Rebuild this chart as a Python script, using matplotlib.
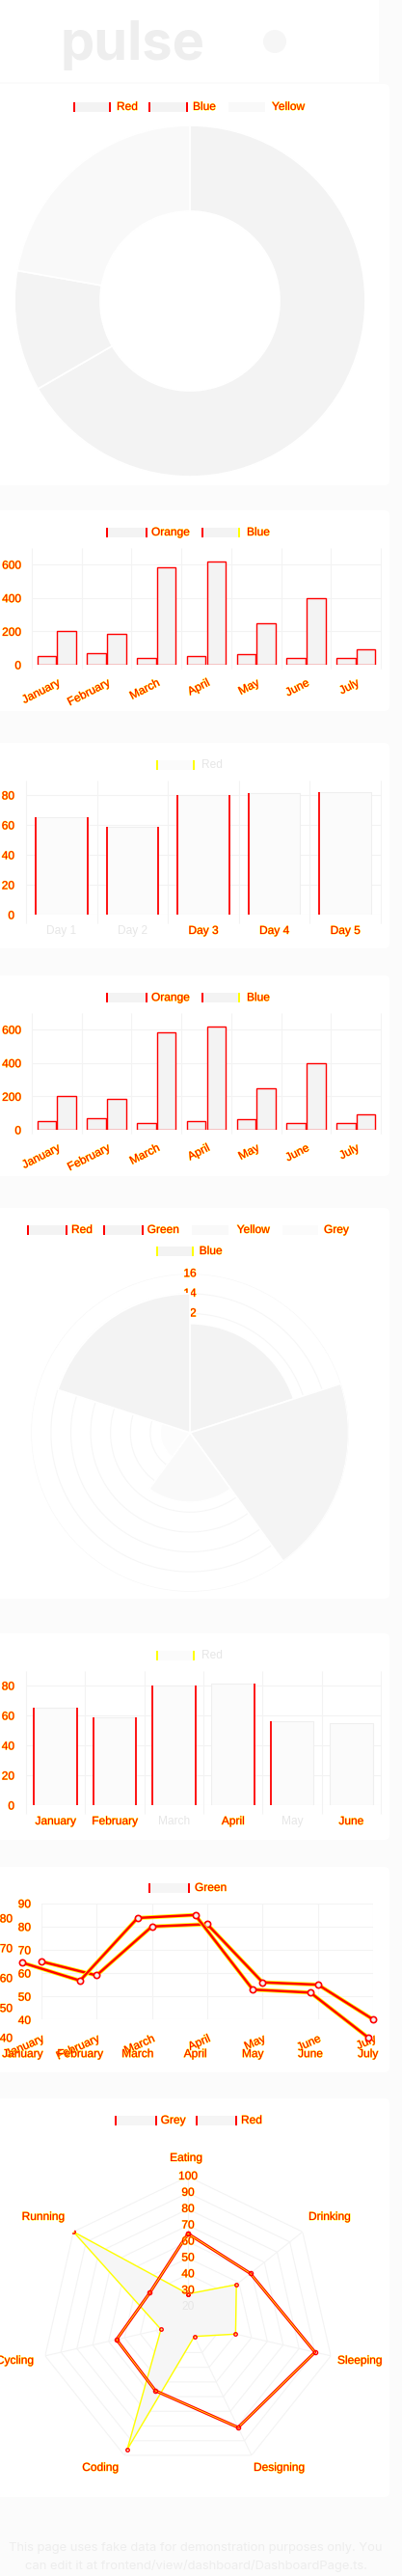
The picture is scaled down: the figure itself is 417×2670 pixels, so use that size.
import matplotlib
matplotlib.use('Agg')
import matplotlib.pyplot as plt
import matplotlib.patheffects as pe
from matplotlib.patches import Rectangle, FancyBboxPatch, Circle
import numpy as np

W, H, DPI = 417, 2670, 100
plt.rcParams['font.family'] = ['Liberation Sans', 'DejaVu Sans']

RED = '#ff0000'
YEL = '#ffff00'
LIGHT = '#e6e6e6'
GRID = '#f3f3f3'
FS = 8.6
HALO = [pe.withStroke(linewidth=0.6, foreground=YEL)]

# ---------------- data ----------------
donut_labels = ['Red', 'Blue', 'Yellow']
donut_values = [300, 50, 100]

month_labels = ['January', 'February', 'March', 'April', 'May', 'June', 'July']
group_names = ['Orange', 'Blue']
orange_values = [52, 67, 42, 50, 62, 38, 42]
blue_values = [200, 185, 585, 620, 250, 400, 95]
bar_ticks = [0, 200, 400, 600]

day_name = 'Red'
day_labels = ['Day 1', 'Day 2', 'Day 3', 'Day 4', 'Day 5']
day_values = [65, 59, 80, 81, 82]
small_ticks = [0, 20, 40, 60, 80]

polar_labels = ['Red', 'Green', 'Yellow', 'Grey', 'Blue']
polar_values = [11, 16, 7, 3, 14]
polar_ticks = [2, 4, 6, 8, 10, 12, 14, 16]

half_name = 'Red'
half_labels = ['January', 'February', 'March', 'April', 'May', 'June']
half_values = [65, 59, 80, 81, 56, 55]

line_name = 'Green'
line_labels = ['January', 'February', 'March', 'April', 'May', 'June', 'July']
line_values = [65, 59, 80, 81, 56, 55, 40]
line_ticks_a = [40, 50, 60, 70, 80, 90]
line_ticks_b = [40, 50, 60, 70, 80]

radar_names = ['Grey', 'Red']
radar_labels = ['Eating', 'Drinking', 'Sleeping', 'Designing', 'Coding', 'Cycling', 'Running']
radar_grey = [65, 59, 90, 81, 56, 55, 40]
radar_red = [28, 48, 40, 19, 96, 27, 100]
radar_ticks = [20, 30, 40, 50, 60, 70, 80, 90, 100]

footer_lines = ['This page uses fake data for demonstration purposes only. You',
                'can edit it at frontend/view/dashboard/DashboardPage.ts.']

# ---------------- figure ----------------
fig = plt.figure(figsize=(W / DPI, H / DPI), dpi=DPI, facecolor='#fbfbfb')
bg = fig.add_axes([0, 0, 1, 1], zorder=0)
bg.set_xlim(0, W)
bg.set_ylim(H, 0)
bg.axis('off')


def rect(x0, y0, x1, y1):
    return [x0 / W, 1 - y1 / H, (x1 - x0) / W, (y1 - y0) / H]


def pt(px):
    return px * 72.0 / DPI


def style(ax):
    ax.set_facecolor('none')
    for s in ax.spines.values():
        s.set_visible(False)


def colorize(labels, colors):
    for lbl, c in zip(labels, colors):
        lbl.set_color(c)
        if c == RED:
            lbl.set_path_effects(HALO)


# header & cards
bg.add_patch(Rectangle((0, 0), 393, 85, facecolor='white', edgecolor='none'))
cards = [(87, 503), (529, 737), (770, 983), (1011, 1219), (1252, 1657),
         (1693, 1907), (1935, 2148), (2175, 2588)]
for y0, y1 in cards:
    bg.add_patch(FancyBboxPatch((-10, y0), 414, y1 - y0,
                                boxstyle='round,pad=0,rounding_size=5',
                                facecolor='white', edgecolor='none'))
bg.add_patch(Circle((285, 43), 12, facecolor='#f6f6f6', edgecolor='none'))
title = bg.text(63, 62, 'pulse', family='Inter', fontweight='bold', fontsize=46,
                color='#eeeeee', va='baseline', ha='left')
foot = [bg.text(203, 2641 + 19 * i, s, family='Inter', fontsize=9, color='#ededed',
                ha='center', va='center') for i, s in enumerate(footer_lines)]


def legend_item(x0, x1, yc, fill, left, right, text, tx, tcolor=RED, h=10):
    bg.add_patch(Rectangle((x0, yc - h / 2), x1 - x0, h, facecolor=fill, edgecolor='none'))
    if left:
        bg.add_patch(Rectangle((x0, yc - h / 2), 2, h, facecolor=left, edgecolor='none'))
    if right:
        bg.add_patch(Rectangle((x1 - 2, yc - h / 2), 2, h, facecolor=right, edgecolor='none'))
    t = bg.text(tx, yc, text, fontsize=FS, color=tcolor, va='center', ha='left')
    if tcolor == RED:
        t.set_path_effects(HALO)


# ---------------- card 1: doughnut ----------------
legend_item(76, 115, 111, '#f3f3f3', RED, RED, donut_labels[0], 121)
legend_item(154, 195, 111, '#f3f3f3', RED, RED, donut_labels[1], 200)
legend_item(237, 275, 111, '#f9f9f9', None, None, donut_labels[2], 282)
axd = fig.add_axes(rect(15, 130, 379, 494))
axd.pie(donut_values, colors=['#f3f3f3', '#f3f3f3', '#f9f9f9'], startangle=90,
        counterclock=False, radius=1,
        wedgeprops=dict(width=0.489, edgecolor='white', linewidth=1.3))
axd.set_xlim(-1, 1)
axd.set_ylim(-1, 1)
axd.set_aspect('auto')


# ---------------- grouped bar charts ----------------
def grouped(y_zero, legend_y):
    legend_item(110, 152.7, legend_y, '#f3f3f3', RED, RED, group_names[0], 157)
    legend_item(209.3, 249.3, legend_y, '#f3f3f3', RED, YEL, group_names[1], 256)
    ax = fig.add_axes(rect(33, y_zero - 121.3, 395, y_zero))
    style(ax)
    x = np.arange(len(month_labels))
    ax.bar(x - 0.2, orange_values, 0.38, color='#f3f3f3', edgecolor=RED, lw=1.0, zorder=3)
    ax.bar(x + 0.2, blue_values, 0.38, color='#f3f3f3', edgecolor=RED, lw=1.0, zorder=3)
    ax.set_xlim(-0.5, len(month_labels) - 0.5)
    ax.set_ylim(0, 700)
    for v in bar_ticks:
        ax.axhline(v, color=GRID, lw=0.8, zorder=1)
    ax.vlines(np.arange(len(month_labels) + 1) - 0.5, -23, 700, color=GRID, lw=0.8,
              zorder=1, clip_on=False)
    ax.set_yticks(bar_ticks)
    ax.set_yticklabels([str(v) for v in bar_ticks])
    ax.tick_params(axis='y', length=0, pad=pt(11), labelsize=FS)
    ax.set_xticks(x)
    ax.set_xticklabels(month_labels, rotation=27, ha='right', rotation_mode='anchor')
    ax.tick_params(axis='x', length=0, pad=pt(13), labelsize=FS)
    colorize(ax.get_yticklabels(), [RED] * 4)
    colorize(ax.get_xticklabels(), [RED] * 7)


grouped(689, 552)
grouped(1171, 1034.3)


# ---------------- single bar charts ----------------
def single(y_zero, x_labels, values, edges, lcolors, legend_y, name):
    legend_item(161.7, 202.3, legend_y, '#fbfbfb', YEL, YEL, name, 209, LIGHT)
    ax = fig.add_axes(rect(27, y_zero - 139.5, 395, y_zero))
    style(ax)
    x = np.arange(len(x_labels))
    bars = ax.bar(x, values, 0.73, color='#fbfbfb', edgecolor='#efefef', lw=0.8, zorder=3)
    for p, (l, r) in zip(bars, edges):
        if l:
            ax.vlines(p.get_x(), 0, p.get_height(), color=RED, lw=1.3, zorder=4)
        if r:
            ax.vlines(p.get_x() + p.get_width(), 0, p.get_height(), color=RED, lw=1.3, zorder=4)
    ax.set_xlim(-0.5, len(x_labels) - 0.5)
    ax.set_ylim(0, 90)
    for v in small_ticks:
        ax.axhline(v, color=GRID, lw=0.8, zorder=1)
    ax.vlines(np.arange(len(x_labels) + 1) - 0.5, -5.6, 90, color=GRID, lw=0.8,
              zorder=1, clip_on=False)
    ax.set_yticks(small_ticks)
    ax.set_yticklabels([str(v) for v in small_ticks])
    ax.tick_params(axis='y', length=0, pad=pt(12), labelsize=FS)
    ax.set_xticks(x)
    ax.set_xticklabels(x_labels)
    ax.tick_params(axis='x', length=0, pad=pt(11), labelsize=FS)
    colorize(ax.get_yticklabels(), [RED] * 5)
    colorize(ax.get_xticklabels(), lcolors)


single(948, day_labels, day_values,
       [(1, 1), (1, 1), (1, 1), (1, 0), (1, 0)],
       [LIGHT, LIGHT, RED, RED, RED], 793, day_name)
single(1871, half_labels, half_values,
       [(1, 1), (1, 1), (1, 1), (0, 1), (1, 0), (0, 0)],
       [RED, RED, LIGHT, RED, LIGHT, RED], 1716, half_name)

# ---------------- polar area ----------------
legend_item(28.3, 70, 1275, '#f3f3f3', RED, RED, polar_labels[0], 74)
legend_item(107.3, 148.7, 1275, '#f3f3f3', RED, RED, polar_labels[1], 152.7)
legend_item(199.3, 237.3, 1275, '#f9f9f9', None, None, polar_labels[2], 245.7)
legend_item(292.7, 330, 1275, '#fbfbfb', None, None, polar_labels[3], 336)
legend_item(161.7, 201, 1297, '#f3f3f3', YEL, YEL, polar_labels[4], 206.7)
R = 164.7
axp = fig.add_axes(rect(197 - R, 1485 - R, 197 + R, 1485 + R), projection='polar')
axp.set_facecolor('none')
axp.set_theta_zero_location('N')
axp.set_theta_direction(-1)
n = len(polar_values)
theta = np.arange(n) * 2 * np.pi / n + np.pi / n
axp.bar(theta, polar_values, width=2 * np.pi / n,
        color=['#f3f3f3', '#f4f4f4', '#f9f9f9', '#fcfcfc', '#f3f3f3'],
        edgecolor='white', lw=1.3, zorder=3)
ring = np.linspace(0, 2 * np.pi, 300)
for r in polar_ticks:
    axp.plot(ring, [r] * len(ring), color='#f6f6f6', lw=0.8, zorder=1)
    t = axp.text(0, r, str(r), ha='center', va='center', fontsize=FS, color=RED, zorder=2)
    t.set_path_effects(HALO)
axp.set_ylim(0, 16)
axp.grid(False)
axp.set_xticks([])
axp.set_yticks([])
axp.spines['polar'].set_visible(False)

# ---------------- line chart (two overlaid renderings) ----------------
legend_item(154, 197.3, 1957, '#f5f5f5', RED, RED, line_name, 202)
xs = np.arange(len(line_values))
axA = fig.add_axes(rect(42.7, 1972.7, 387.3, 2093.3))
style(axA)
axA.set_xlim(0, len(xs) - 1)
axA.set_ylim(40, 90)
for v in line_ticks_a:
    axA.axhline(v, color=GRID, lw=0.8, zorder=1)
for xv in xs:
    axA.axvline(xv, color=GRID, lw=0.8, zorder=1)
axA.plot(xs, line_values, color=YEL, lw=3.0, zorder=3, clip_on=False)
axA.plot(xs, line_values, color=RED, lw=1.8, marker='o', ms=4.5, mfc='#f2f2f2',
         mec=RED, mew=1.2, zorder=4, clip_on=False)
axA.set_yticks(line_ticks_a)
axA.set_yticklabels([str(v) for v in line_ticks_a])
axA.tick_params(axis='y', length=0, pad=pt(10.7), labelsize=FS)
axA.set_xticks(xs)
axA.set_xticklabels(line_labels, rotation=24, ha='right', rotation_mode='anchor')
axA.tick_params(axis='x', length=0, pad=pt(14), labelsize=FS)
colorize(axA.get_yticklabels(), [RED] * 6)
colorize(axA.get_xticklabels(), [RED] * 7)

axB = fig.add_axes(rect(23.3, 1957, 381.7, 2111.7))
style(axB)
axB.set_xlim(0, len(xs) - 1)
axB.set_ylim(40, 90)
axB.plot(xs, line_values, color=YEL, lw=3.0, zorder=3, clip_on=False)
axB.plot(xs, line_values, color=RED, lw=1.8, marker='o', ms=4.5, mfc='#f2f2f2',
         mec=RED, mew=1.2, zorder=4, clip_on=False)
axB.set_yticks(line_ticks_b)
axB.set_yticklabels([str(v) for v in line_ticks_b])
axB.tick_params(axis='y', length=0, pad=pt(10.3), labelsize=FS)
axB.set_xticks(xs)
axB.set_xticklabels(line_labels)
axB.tick_params(axis='x', length=0, pad=pt(11.5), labelsize=FS)
colorize(axB.get_yticklabels(), [RED] * 5)
colorize(axB.get_xticklabels(), [RED] * 7)

# ---------------- radar ----------------
legend_item(119.3, 162.7, 2198, '#f5f5f5', RED, RED, radar_names[0], 166.7)
legend_item(202.7, 246, 2198, '#f5f5f5', RED, RED, radar_names[1], 250)
RR = 152
axr = fig.add_axes(rect(195 - RR, 2408 - RR, 195 + RR, 2408 + RR), projection='polar')
axr.set_facecolor('none')
axr.set_theta_zero_location('N')
axr.set_theta_direction(-1)
k = len(radar_labels)
ang = np.arange(k) * 2 * np.pi / k
closed = np.append(ang, ang[0])
for v in radar_ticks:
    axr.plot(closed, [v] * (k + 1), color=GRID, lw=0.8, zorder=1)
for a in ang:
    axr.plot([a, a], [10, 100], color=GRID, lw=0.8, zorder=1)
rv = np.append(radar_red, radar_red[0])
gv = np.append(radar_grey, radar_grey[0])
axr.fill(closed, rv, color='#f6f6f6', zorder=2)
axr.plot(closed, rv, color=YEL, lw=1.0, zorder=3, marker='o', ms=2.5, mfc='none', mec=RED)
axr.plot(closed, gv, color=RED, lw=2.2, zorder=4)
axr.plot(closed, gv, color=YEL, lw=0.6, zorder=5, marker='o', ms=3, mfc='none', mec=RED)
for v in radar_ticks:
    c = LIGHT if v == 20 else RED
    t = axr.text(0, v, str(v), ha='center', va='center', fontsize=FS, color=c, zorder=6)
    if c == RED:
        t.set_path_effects(HALO)
axr.set_ylim(10, 100)
axr.grid(False)
axr.set_xticks([])
axr.set_yticks([])
axr.spines['polar'].set_visible(False)

label_pos = [(193, 2237, 'center'), (320, 2298, 'left'), (350, 2447, 'left'),
             (263, 2558, 'left'), (123, 2558, 'right'), (35, 2447, 'right'),
             (67, 2298, 'right')]
for (lx, ly, ha), s in zip(label_pos, radar_labels):
    t = bg.text(lx, ly, s, fontsize=FS, color=RED, ha=ha, va='center')
    t.set_path_effects(HALO)

# ---------------- fit header / footer widths ----------------
fig.canvas.draw()
rend = fig.canvas.get_renderer()
bb = title.get_window_extent(rend)
title.set_fontsize(46 * 150.0 / bb.width)
bb = foot[0].get_window_extent(rend)
fs = 9 * 390.0 / bb.width
for f in foot:
    f.set_fontsize(fs)

fig.savefig('out.png', dpi=DPI, facecolor=fig.get_facecolor())
